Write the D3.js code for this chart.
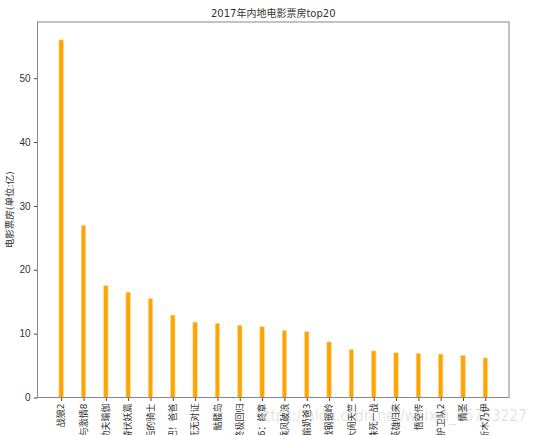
<!DOCTYPE html>
<html>
<head>
<meta charset="utf-8">
<script src="https://cdn.jsdelivr.net/npm/d3@7"></script>
<style>
  body { margin: 0; background: #fff; }
  svg { display: block; font-family: "DejaVu Sans", "Noto Sans CJK SC", sans-serif; }
</style>
</head>
<body>
<div id="chart"></div>
<script>
// movie titles, top 20 of 2017 mainland box office
const movies = ["战狼2","速度与激情8","功夫瑜伽","西游伏妖篇","变形金刚5：最后的骑士",
  "摔跤吧！爸爸","加勒比海盗5：死无对证","金刚：骷髅岛","极限特工：终极回归","生化危机6：终章",
  "乘风破浪","神偷奶爸3","血战钢锯岭","大闹天竺","金刚狼3：殊死一战",
  "蜘蛛侠：英雄归来","悟空传","银河护卫队2","情圣","新木乃伊"];
// box office, 100 million yuan
const boxOffice = [56.0,26.9,17.5,16.5,15.5,12.9,11.8,11.6,11.3,11.1,
  10.5,10.3,8.7,7.5,7.3,7.0,6.9,6.8,6.6,6.2];
const yTicks = [0,10,20,30,40,50];

const width = 538, height = 435;
const margin = {top: 22, right: 29, bottom: 37.5, left: 37.5};

const svg = d3.select("#chart").append("svg")
  .attr("width", width).attr("height", height);

const iw = width - margin.left - margin.right,
      ih = height - margin.top - margin.bottom;
const g = svg.append("g").attr("transform", `translate(${margin.left},${margin.top})`);

// mimic matplotlib bar layout: positions 0..19, width .2, 5% margins
const bw = 0.2, n = movies.length;
const span = (n - 1) + bw;
const x = d3.scaleLinear()
  .domain([-bw/2 - span*0.05, n - 1 + bw/2 + span*0.05])
  .range([0, iw]);
const y = d3.scaleLinear()
  .domain([0, d3.max(boxOffice)*1.05])
  .range([ih, 0]);

g.selectAll("rect.bar")
  .data(boxOffice)
  .join("rect")
    .attr("class","bar")
    .attr("x", (d,i) => x(i - bw/2))
    .attr("width", x(bw) - x(0))
    .attr("y", d => y(d))
    .attr("height", d => y(0) - y(d))
    .attr("fill", "#ffa500")
    .attr("stroke", "#ffd9a0")
    .attr("stroke-width", 0.6);

// y axis
const yAxis = g.append("g")
  .call(d3.axisLeft(y).tickValues(yTicks).tickSize(3.5).tickPadding(3.5));
yAxis.select(".domain").remove();
yAxis.selectAll("line").attr("stroke","#444");
yAxis.selectAll("text").attr("font-size", 10).attr("fill","#333");

// x axis
const xAxis = g.append("g")
  .attr("transform", `translate(0,${ih})`)
  .call(d3.axisBottom(x).tickValues(d3.range(n)).tickSize(3.5).tickFormat(""));
xAxis.select(".domain").remove();
xAxis.selectAll("line").attr("stroke","#444");

// long labels run off the bottom edge, as in the original figure
g.selectAll("text.xl")
  .data(movies)
  .join("text")
    .attr("class","xl")
    .attr("transform", (d,i) => `translate(${x(i)},${ih + 6}) rotate(-90)`)
    .attr("text-anchor","end")
    .attr("dy","0.35em")
    .attr("font-size", 9)
    .attr("fill","#333")
    .text(d => d);

// frame
g.append("rect")
  .attr("width", iw).attr("height", ih)
  .attr("fill","none").attr("stroke","#888").attr("stroke-width",1);

// title
svg.append("text")
  .attr("x", margin.left + iw/2).attr("y", 17)
  .attr("text-anchor","middle")
  .attr("font-size", 10)
  .attr("fill","#333")
  .text("2017年内地电影票房top20");

// y label
svg.append("text")
  .attr("transform", `translate(13,${margin.top + ih/2}) rotate(-90)`)
  .attr("text-anchor","middle")
  .attr("font-size", 9.5)
  .attr("fill","#333")
  .text("电影票房(单位:亿)");

// watermark
svg.append("text")
  .attr("x", 256).attr("y", 421)
  .attr("font-size", 15)
  .attr("textLength", 271).attr("lengthAdjust", "spacingAndGlyphs")
  .attr("fill","#000").attr("fill-opacity", 0.13)
  .text("https://blog.csdn.net/weixin_45753227");
</script>
</body>
</html>
